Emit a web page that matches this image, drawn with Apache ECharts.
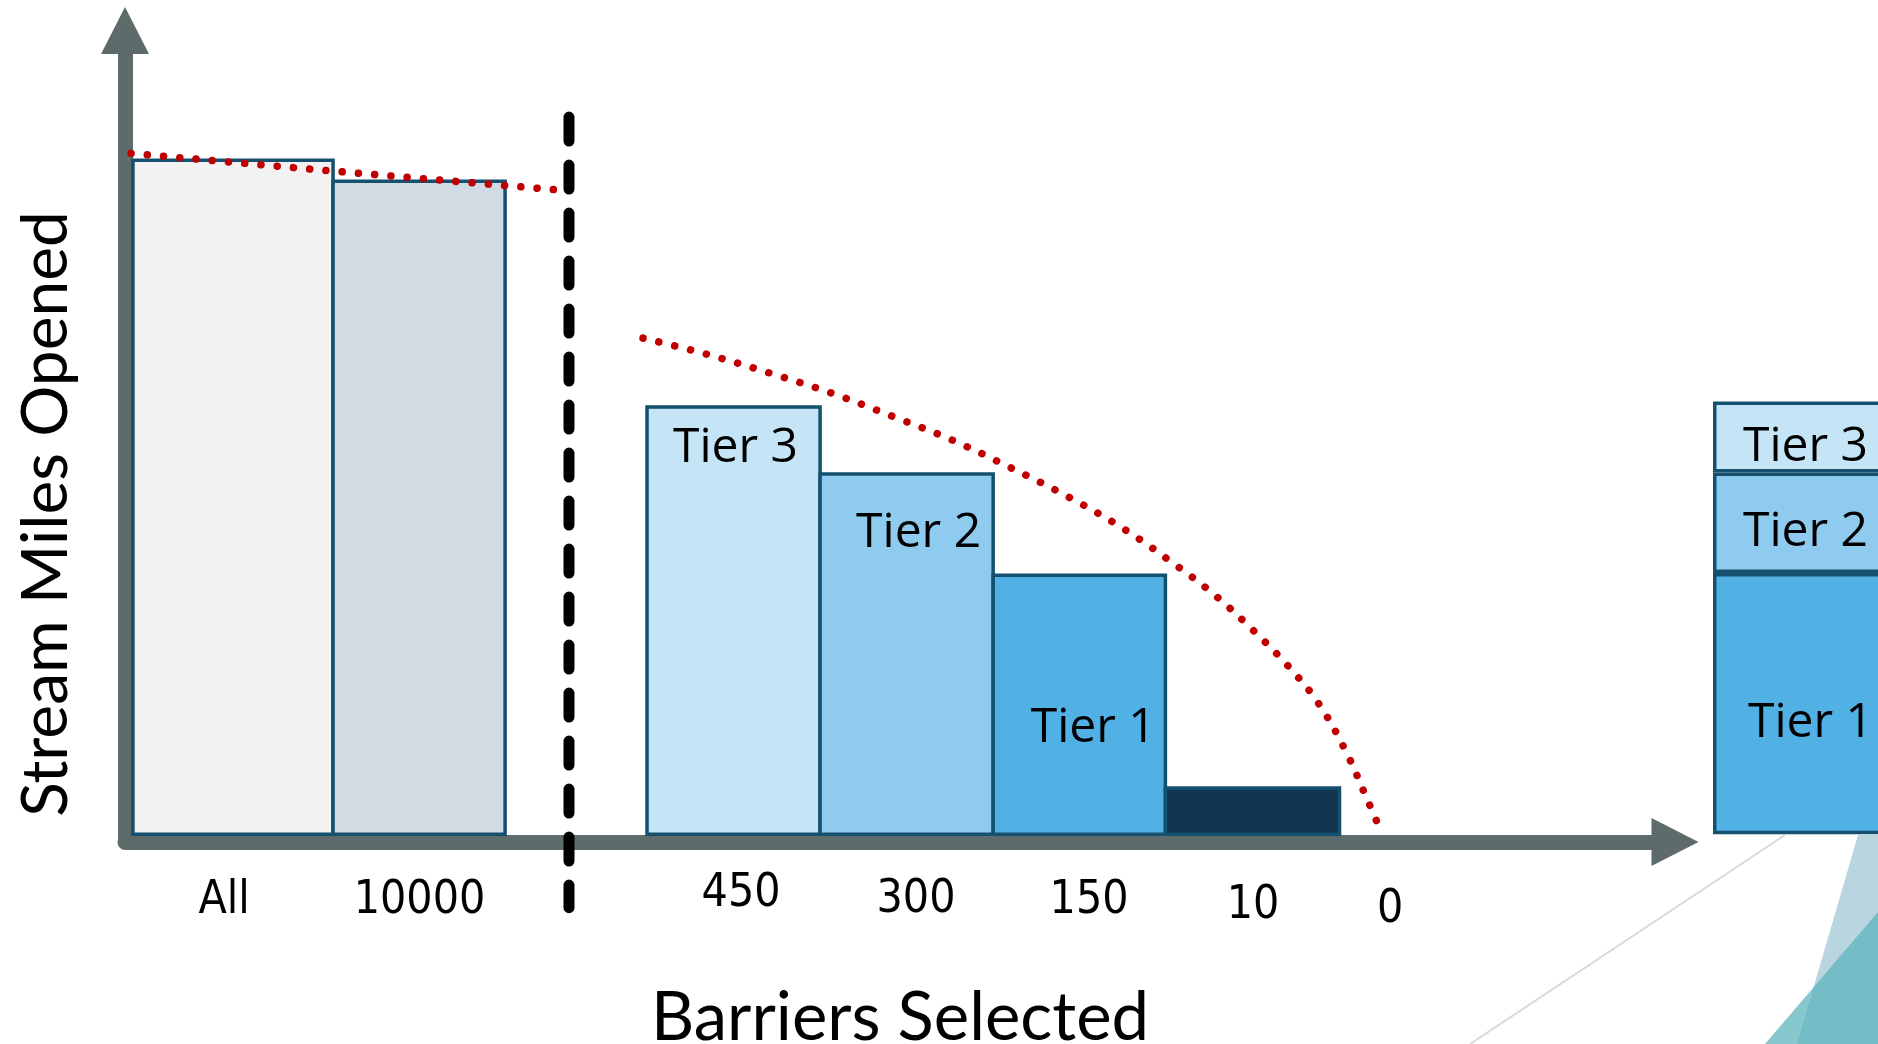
<!DOCTYPE html>
<html>
<head>
<meta charset="utf-8">
<script src="https://cdn.jsdelivr.net/npm/echarts@6/dist/echarts.min.js"></script>
<style>
html,body{margin:0;padding:0;background:#ffffff;}
#chart{width:1878px;height:1044px;}
</style>
</head>
<body>
<div id="chart"></div>
<script>
// ---------------- data ----------------
const categories = ['All', '10000', '450', '300', '150', '10', '0'];
const milesOpened = [87.2, 84.5, 55.3, 46.6, 33.5, 6.0, 0];
const barTierLabels = ['', '', 'Tier 3', 'Tier 2', 'Tier 1', '', ''];
const stackTiers = ['Tier 1', 'Tier 2', 'Tier 3'];
const stackValues = [33.8, 13.0, 9.2];
const trendAll = [[0.035, 88.1], [1.161, 85.9], [2.55, 83.3]];
const trendTiers = [
  [3.008, 64.2], [3.380, 62.1], [3.740, 59.7], [4.100, 57.1], [4.454, 54.1],
  [4.803, 51.0], [5.145, 47.4], [5.482, 43.6], [5.807, 39.4], [6.115, 34.6],
  [6.341, 30.7], [6.550, 26.4], [6.748, 21.9], [6.928, 17.0], [7.085, 10.9],
  [7.213, 4.5], [7.300, 0.0]
];
const xTitle = 'Barriers Selected';
const yTitle = 'Stream Miles Opened';

// ---------------- layout & style (not data) ----------------
const layout = {
  spans: [[0.046, 1.208], [1.208, 2.207], [3.031, 4.036], [4.036, 5.041], [5.041, 6.041], [6.041, 7.052], [7.346, 7.346]],
  tickLabelX: [0.575, 1.710, 3.577, 4.593, 5.598, 6.550, 7.346],
  tickLabelDy: [59, 59, 52, 58.5, 59, 64, 68],
  tierLabelDx: [0, 0, 2, 12, 14, 0, 0],
  tierLabelDy: [0, 0, 7.5, 9, 23.5, 0, 0],
  dividerX: 2.578,
  dividerY: [92.8, -9.5]
};
const barFill = ['#f2f2f2', '#d0dbe4', '#c5e5f6', '#8ecbee', '#52b1e4', '#11364f', '#ffffff'];
const stackFill = ['#52b1e4', '#8ecbee', '#c5e5f6'];
const stackLabelOffset = [[11, 20], [6, 10], [6, 10]];
const borderColor = '#15506f';
const axisColor = '#5d6b6b';
const dotRed = '#c00000';
const tierFont = '"Open Sans", "Noto Sans", sans-serif';
const tickFont = '"Liberation Sans Narrow", "DejaVu Sans Condensed", "Liberation Sans", sans-serif';
const titleFont = 'Lato, "Liberation Sans", sans-serif';

const barData = categories.map((c, i) => [layout.spans[i][0], layout.spans[i][1], milesOpened[i], i]);

function renderBars(params, api) {
  const i = api.value(3);
  const x0 = api.value(0), x1 = api.value(1), v = api.value(2);
  const bl = api.coord([x0, 0]);
  const tr = api.coord([x1, v]);
  const children = [];
  if (v > 0) {
    children.push({
      type: 'rect',
      shape: { x: bl[0], y: tr[1], width: tr[0] - bl[0], height: bl[1] - tr[1] },
      style: { fill: barFill[i], stroke: borderColor, lineWidth: 3.5 }
    });
  }
  if (barTierLabels[i]) {
    const next = barTierLabels[i + 1] ? milesOpened[i + 1] : 0;
    const mid = api.coord([(x0 + x1) / 2, (v + next) / 2]);
    children.push({
      type: 'text',
      x: mid[0] + layout.tierLabelDx[i],
      y: mid[1] + layout.tierLabelDy[i],
      style: { text: barTierLabels[i], fontSize: 48, fontFamily: tierFont, fill: '#000000', align: 'center', verticalAlign: 'middle' }
    });
  }
  const axisY = api.coord([0, -1])[1];
  const lx = api.coord([layout.tickLabelX[i], 0])[0];
  children.push({
    type: 'text',
    x: lx,
    y: axisY + layout.tickLabelDy[i],
    style: { text: categories[i], fontSize: 46, fontFamily: tickFont, fill: '#000000', align: 'center', verticalAlign: 'middle' }
  });
  return { type: 'group', children: children };
}

const dotted = { color: dotRed, width: 7.5, type: [0.1, 16.2], cap: 'round' };

const option = {
  animation: false,
  backgroundColor: '#ffffff',
  grid: [
    { left: 125, right: 203, top: 30.5, bottom: 202, containLabel: false, outerBoundsMode: 'none' },
    { left: 1713, width: 173, top: 30.5, bottom: 202, containLabel: false, outerBoundsMode: 'none' }
  ],
  xAxis: [
    {
      type: 'value', gridIndex: 0, min: 0, max: 9,
      name: xTitle, nameLocation: 'middle', nameGap: 143,
      nameTextStyle: { fontSize: 67, fontFamily: titleFont, color: '#000000' },
      axisLine: { show: true, onZero: false, symbol: ['none', 'triangle'], symbolSize: [48, 47],
        lineStyle: { color: axisColor, width: 15, cap: 'round' } },
      axisTick: { show: false }, axisLabel: { show: false }, splitLine: { show: false }
    },
    {
      type: 'category', gridIndex: 1, data: ['Tiers'],
      axisLine: { show: false }, axisTick: { show: false }, axisLabel: { show: false }, splitLine: { show: false }
    }
  ],
  yAxis: [
    {
      type: 'value', gridIndex: 0, min: -1, max: 104,
      axisLine: { show: true, symbol: ['none', 'triangle'], symbolSize: [48, 47],
        lineStyle: { color: axisColor, width: 15, cap: 'round' } },
      axisTick: { show: false }, axisLabel: { show: false }, splitLine: { show: false }
    },
    {
      type: 'value', gridIndex: 1, min: -1, max: 104, show: false
    }
  ],
  graphic: [
    { type: 'line', z: 0, shape: { x1: 1470, y1: 1044, x2: 1785, y2: 835 }, style: { stroke: '#d9d9d9', lineWidth: 2 } },
    { type: 'polygon', z: 0, shape: { points: [[1858, 835], [1878, 835], [1878, 1044], [1797, 1044]] }, style: { fill: '#b9d5e0' } },
    { type: 'polygon', z: 0, shape: { points: [[1765, 1044], [1878, 912], [1878, 1044]] }, style: { fill: 'rgba(92,181,189,0.74)' } },
    {
      type: 'text', x: 46, y: 514, rotation: Math.PI / 2,
      style: { text: yTitle, fontSize: 64, fontFamily: titleFont, fill: '#000000', align: 'center', verticalAlign: 'middle' }
    }
  ],
  series: [
    {
      type: 'custom', name: 'Barriers', xAxisIndex: 0, yAxisIndex: 0,
      renderItem: renderBars, data: barData, clip: false, z: 2, silent: true
    },
    {
      type: 'line', name: 'Trend all', xAxisIndex: 0, yAxisIndex: 0, data: trendAll,
      symbol: 'none', lineStyle: dotted, z: 5, silent: true, clip: false
    },
    {
      type: 'line', name: 'Trend tiers', xAxisIndex: 0, yAxisIndex: 0, data: trendTiers, smooth: 0.4,
      symbol: 'none', lineStyle: dotted, z: 5, silent: true, clip: false
    },
    {
      type: 'line', name: 'Divider', xAxisIndex: 0, yAxisIndex: 0,
      data: [[layout.dividerX, layout.dividerY[0]], [layout.dividerX, layout.dividerY[1]]],
      symbol: 'none', lineStyle: { color: '#000000', width: 11, type: [24, 24], cap: 'round' },
      z: 6, silent: true, clip: false
    }
  ].concat(stackTiers.map((name, k) => ({
    type: 'bar', name: name, xAxisIndex: 1, yAxisIndex: 1, stack: 'tiers',
    barWidth: '100%', data: [stackValues[k]], silent: true,
    itemStyle: { color: stackFill[k], borderColor: borderColor, borderWidth: 3.5 },
    label: { show: true, position: 'inside', formatter: name, offset: stackLabelOffset[k],
      fontSize: 48, fontFamily: tierFont, color: '#000000' }
  })))
};

const chart = echarts.init(document.getElementById('chart'));
chart.setOption(option);
</script>
</body>
</html>
